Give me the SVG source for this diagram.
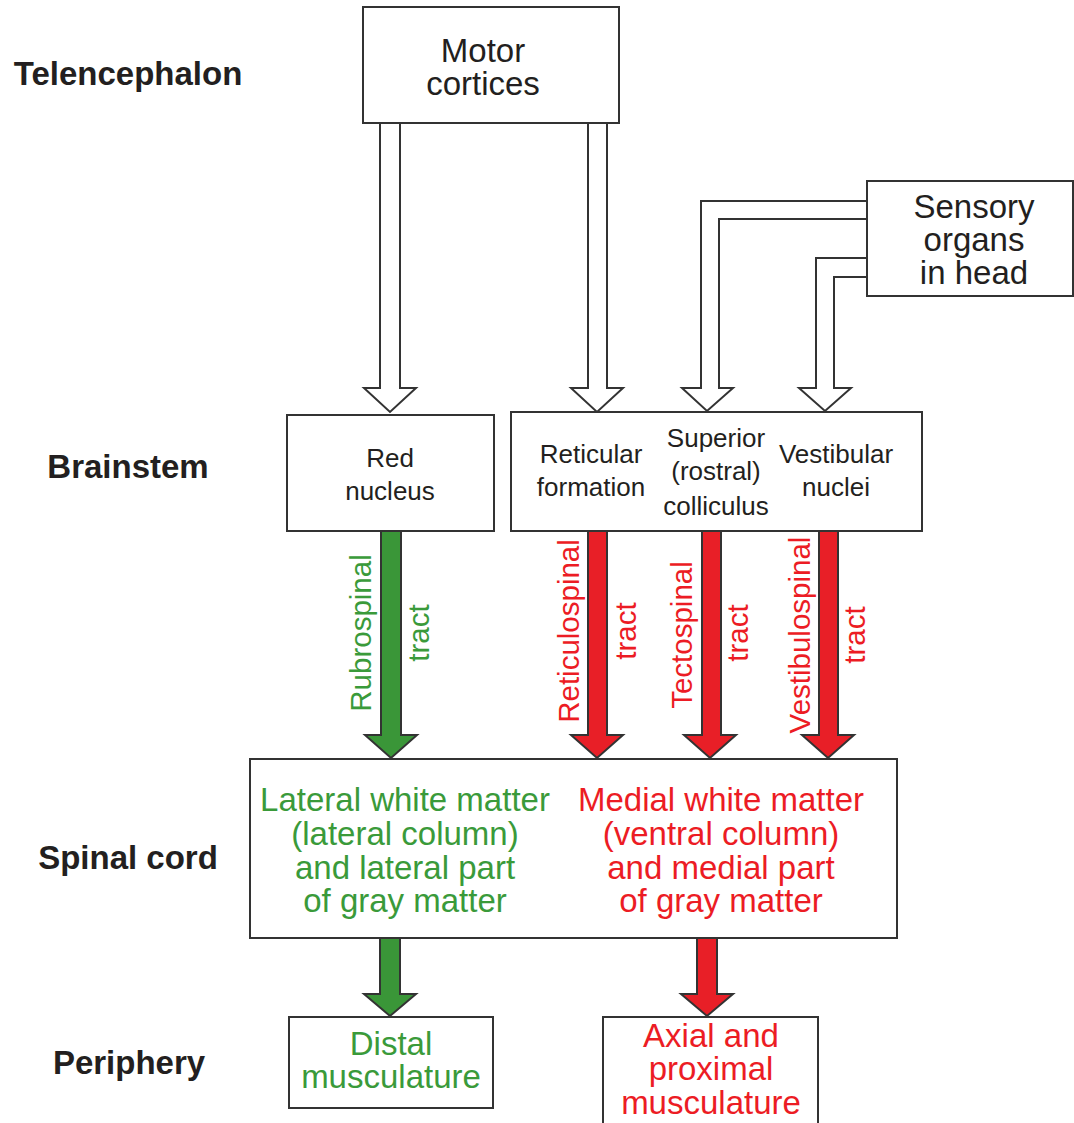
<svg xmlns="http://www.w3.org/2000/svg" width="1074" height="1123" viewBox="0 0 1074 1123">
<style>
.box{fill:#fff;stroke:#333;stroke-width:2}
.hollow{fill:#fff;stroke:#333;stroke-width:2;stroke-linejoin:miter}
.garrow{fill:#3a9638;stroke:#333;stroke-width:2}
.rarrow{fill:#e81f27;stroke:#333;stroke-width:2}
text{font-family:"Liberation Sans",Arial,sans-serif;text-anchor:middle}
.lvl{font-size:33px;font-weight:bold;fill:#231f20}
.big{font-size:33px;fill:#231f20}
.small{font-size:26px;fill:#231f20}
.g{fill:#3a9a3a}
.r{fill:#ec1c24}
.tr{font-size:29.5px}
.sc{font-size:33px}
</style>
<rect width="1074" height="1123" fill="#fff"/>
<g id="levels">
<text class="lvl" x="128" y="85">Telencephalon</text>
<text class="lvl" x="128" y="478">Brainstem</text>
<text class="lvl" x="128" y="869">Spinal cord</text>
<text class="lvl" x="129" y="1074">Periphery</text>
</g>
<g id="connectors">
<path class="hollow" d="M380,123 V388 H364 L390,412 L416,388 H400 V123"/>
<path class="hollow" d="M588,123 V388 H571 L597,412 L623,388 H607 V123"/>
<path class="hollow" d="M867,201 H701 V388 H682 L707,411 L733,388 H719 V219 H867"/>
<path class="hollow" d="M867,258 H816 V388 H799 L825,411 L851,388 H834 V277 H867"/>
<path class="garrow" d="M381,531 V735 H365 L391,758 L417,735 H401 V531 Z"/>
<path class="rarrow" d="M588,531 V735 H571 L597,758 L623,735 H607 V531 Z"/>
<path class="rarrow" d="M702,531 V735 H684 L710,758 L736,735 H721 V531 Z"/>
<path class="rarrow" d="M819,531 V735 H802 L828,758 L854,735 H838 V531 Z"/>
<path class="garrow" d="M380,938 V994 H364 L390,1016 L416,994 H400 V938 Z"/>
<path class="rarrow" d="M697,938 V994 H681 L707,1016 L733,994 H717 V938 Z"/>
<text class="g tr" transform="translate(371,633) rotate(-90)">Rubrospinal</text>
<text class="g tr" transform="translate(429,633) rotate(-90)">tract</text>
<text class="r tr" transform="translate(579,631) rotate(-90)">Reticulospinal</text>
<text class="r tr" transform="translate(636,631) rotate(-90)">tract</text>
<text class="r tr" transform="translate(692,635) rotate(-90)">Tectospinal</text>
<text class="r tr" transform="translate(748,633) rotate(-90)">tract</text>
<text class="r tr" transform="translate(810,635) rotate(-90)">Vestibulospinal</text>
<text class="r tr" transform="translate(865,635) rotate(-90)">tract</text>
</g>
<g id="motor-cortices">
<rect class="box" x="363" y="7" width="256" height="116"/>
<text class="big" x="483" y="62">Motor</text>
<text class="big" x="483" y="95">cortices</text>
</g>
<g id="sensory-organs">
<rect class="box" x="867" y="181" width="206" height="115"/>
<text class="big" x="974" y="218">Sensory</text>
<text class="big" x="974" y="251">organs</text>
<text class="big" x="974" y="284">in head</text>
</g>
<g id="red-nucleus">
<rect class="box" x="287" y="415" width="207" height="116"/>
<text class="small" x="390" y="467">Red</text>
<text class="small" x="390" y="500">nucleus</text>
</g>
<g id="brainstem-nuclei">
<rect class="box" x="511" y="412" width="411" height="119"/>
<text class="small" x="591" y="463">Reticular</text>
<text class="small" x="591" y="496">formation</text>
<text class="small" x="716" y="447">Superior</text>
<text class="small" x="716" y="480">(rostral)</text>
<text class="small" x="716" y="515">colliculus</text>
<text class="small" x="836" y="463">Vestibular</text>
<text class="small" x="836" y="496">nuclei</text>
</g>
<g id="spinal-cord">
<rect class="box" x="250" y="759" width="647" height="179"/>
<text class="g sc" x="405" y="811">Lateral white matter</text>
<text class="g sc" x="405" y="845">(lateral column)</text>
<text class="g sc" x="405" y="879">and lateral part</text>
<text class="g sc" x="405" y="912">of gray matter</text>
<text class="r sc" x="721" y="811">Medial white matter</text>
<text class="r sc" x="721" y="845">(ventral column)</text>
<text class="r sc" x="721" y="879">and medial part</text>
<text class="r sc" x="721" y="912">of gray matter</text>
</g>
<g id="distal-musculature">
<rect class="box" x="289" y="1017" width="204" height="91"/>
<text class="g sc" x="391" y="1055">Distal</text>
<text class="g sc" x="391" y="1088">musculature</text>
</g>
<g id="axial-proximal-musculature">
<rect class="box" x="603" y="1017" width="215" height="110"/>
<text class="r sc" x="711" y="1047">Axial and</text>
<text class="r sc" x="711" y="1080">proximal</text>
<text class="r sc" x="711" y="1114">musculature</text>
</g>
</svg>
